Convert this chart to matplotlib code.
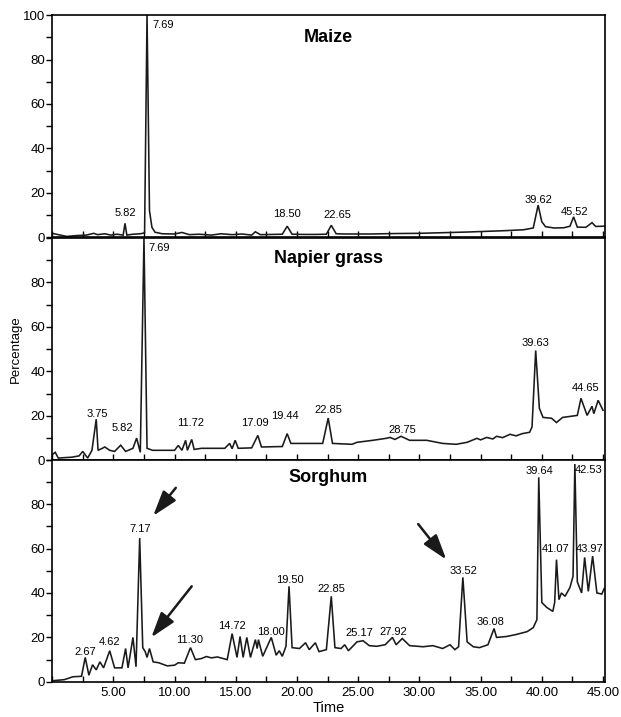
import numpy as np
import matplotlib
matplotlib.use("Agg")
import matplotlib.pyplot as plt
from matplotlib.ticker import MultipleLocator, FixedLocator

plt.rcParams['font.family'] = ['Liberation Sans', 'DejaVu Sans']

# ---- traces (time, percentage) ----
maize_t = [0.0, 0.5, 1.2, 2.0, 2.8, 3.4, 3.7, 4.3, 4.8, 5.3, 5.8, 5.95, 6.1, 6.6, 7.2, 7.55,
           7.75, 7.95, 8.15, 8.4, 9.0, 10.0, 10.6, 11.2, 12.0, 13.0, 13.8, 14.7, 15.5, 16.3,
           16.6, 17.0, 18.0, 18.8, 19.2, 19.6, 20.5, 21.5, 22.4, 22.8, 23.2, 24.0, 26.0, 28.0,
           30.0, 32.0, 34.0, 35.5, 37.0, 38.5, 39.3, 39.7, 40.0, 40.3, 41.0, 41.8, 42.3, 42.6,
           42.9, 43.6, 44.1, 44.4, 45.1]
maize_y = [1.8, 1.2, 0.4, 0.8, 1.0, 1.8, 1.2, 1.6, 1.0, 1.4, 1.0, 6.3, 1.0, 1.4, 1.6, 2.0,
           100, 12, 4.5, 2.3, 1.6, 1.5, 2.2, 1.2, 1.4, 1.0, 1.6, 1.2, 1.5, 1.0,
           2.5, 1.2, 1.3, 1.4, 5.0, 1.4, 1.3, 1.3, 1.4, 5.4, 1.6, 1.5, 1.5, 1.7,
           1.8, 2.1, 2.4, 2.7, 3.0, 3.4, 4.2, 14.5, 7.0, 4.8, 4.2, 4.3, 5.0, 9.2,
           4.6, 4.5, 6.6, 4.9, 5.0]

napier_t = [0.0, 0.25, 0.5, 1.0, 1.6, 2.2, 2.5, 2.9, 3.25, 3.6, 3.75, 4.1, 4.3, 4.7, 5.1, 5.6,
            6.0, 6.6, 6.9, 7.2, 7.5, 7.75, 8.2, 9.0, 10.0, 10.3, 10.6, 10.9, 11.05, 11.4, 11.6,
            12.2, 13.0, 14.1, 14.5, 14.7, 14.95, 15.2, 16.3, 16.8, 17.1, 18.8, 19.2, 19.5, 21.0,
            22.1, 22.55, 22.9, 24.5, 24.9, 26.2, 27.3, 27.6, 28.0, 28.5, 29.2, 30.6, 31.9, 33.0,
            33.9, 34.7, 35.0, 35.5, 36.0, 36.3, 36.8, 37.4, 37.9, 38.4, 39.0, 39.2, 39.5, 39.8,
            40.1, 40.8, 41.2, 41.7, 42.9, 43.2, 43.7, 44.1, 44.25, 44.6, 45.0]
napier_y = [2.5, 3.6, 1.0, 1.2, 1.4, 2.0, 4.0, 1.0, 4.5, 18.5, 4.5, 5.4, 6.0, 4.5, 4.0, 6.8,
            4.0, 5.4, 10.0, 3.6, 100, 5.4, 4.5, 4.5, 4.5, 6.7, 4.5, 9.0, 4.5, 9.4, 4.9,
            5.4, 5.4, 5.4, 7.6, 5.2, 9.0, 5.4, 5.6, 11.2, 6.0, 6.2, 12.0, 7.6, 7.6,
            7.6, 19.0, 7.6, 7.2, 8.1, 9.0, 9.9, 10.3, 9.4, 10.8, 9.0, 9.0, 7.6, 7.2,
            8.1, 9.9, 9.2, 10.3, 9.6, 10.8, 10.2, 11.7, 11.0, 12.0, 12.6, 15.0, 49.4, 23.4,
            19.3, 18.9, 17.0, 19.3, 20.2, 27.9, 20.2, 24.3, 21.0, 27.0, 22.5]

sorghum_t = [0.0, 1.0, 1.7, 2.4, 2.7, 3.0, 3.3, 3.6, 3.9, 4.2, 4.7, 5.1, 5.7, 6.0, 6.2, 6.6,
             6.85, 7.15, 7.4, 7.6, 7.75, 7.95, 8.25, 8.7, 9.4, 10.0, 10.3, 10.8, 11.3, 11.7,
             12.2, 12.6, 13.0, 13.5, 14.3, 14.7, 15.1, 15.35, 15.6, 15.9, 16.2, 16.6, 16.75,
             16.85, 17.2, 17.9, 18.3, 18.55, 18.8, 19.1, 19.35, 19.6, 20.2, 20.7, 21.0, 21.5,
             21.8, 22.4, 22.8, 23.1, 23.6, 23.9, 24.2, 24.9, 25.4, 25.9, 26.5, 27.2, 27.8, 28.1,
             28.6, 29.2, 30.3, 31.1, 31.9, 32.5, 32.9, 33.2, 33.55, 33.9, 34.4, 34.9, 35.6, 36.1,
             36.3, 37.1, 37.9, 38.8, 39.3, 39.6, 39.75, 40.0, 40.4, 40.9, 41.05, 41.2, 41.4,
             41.6, 41.9, 42.3, 42.55, 42.7, 42.9, 43.25, 43.5, 43.8, 44.15, 44.5, 44.9, 45.1]
sorghum_y = [0.5, 1.0, 2.3, 2.5, 11, 3, 7.7, 5.4, 9, 6.3, 14, 6.3, 6.3, 15, 6.3, 20,
             6.8, 64.7, 15.4, 13.6, 11, 15, 9, 8.6, 7.2, 7.5, 8.6, 8.4, 15.4, 10,
             10.5, 11.4, 10.8, 11.2, 10.0, 21.7, 11, 20.4, 11, 20, 11, 19, 15,
             19, 11.5, 20, 12, 14, 11.5, 16, 43, 15.4, 15, 17.6, 14.5, 17.6,
             13.6, 14.5, 38.5, 15.4, 15, 16.7, 14, 18, 18.5, 16.3, 16, 16.7, 20, 16.7,
             19.5, 16.3, 15.8, 16.3, 15, 16.7, 14.5, 15.8, 47, 18, 15.8, 15.4, 16.7, 24,
             20, 20.4, 21.3, 22.6, 24.4, 28, 92, 35.7, 33.5, 31.7, 35.7, 55, 37,
             40, 38.5, 42.5, 47.5, 98, 45, 40, 56, 40.7, 56.6, 40, 39.5, 42]

# ---- peak labels ----
maize_labels = ["5.82", "18.50", "22.65", "39.62", "45.52"]
maize_lab_t = [6.0, 19.2, 23.3, 39.7, 42.7]
maize_lab_y = [10.8, 10.5, 10.2, 17.0, 11.5]

napier_labels = ["3.75", "5.82", "11.72", "17.09", "19.44", "22.85", "28.75", "39.63", "44.65"]
napier_lab_t = [3.7, 5.7, 11.3, 16.6, 19.0, 22.6, 28.6, 39.5, 43.6]
napier_lab_y = [21.0, 14.4, 16.6, 16.6, 20.0, 22.5, 13.5, 52.6, 32.4]

sorghum_labels = ["2.67", "4.62", "7.17", "11.30", "14.72", "18.00", "19.50", "22.85",
                  "25.17", "27.92", "33.52", "36.08", "39.64", "41.07", "42.53", "43.97"]
sorghum_lab_t = [2.7, 4.7, 7.2, 11.2, 14.7, 17.9, 19.4, 22.8,
                 25.1, 27.9, 33.6, 35.8, 39.8, 41.1, 43.8, 43.9]
sorghum_lab_y = [13.6, 18.0, 68.8, 19.0, 25.0, 22.6, 46.0, 41.6,
                 22.0, 22.6, 49.8, 27.0, 95.0, 59.7, 95.5, 59.7]

# arrows in the sorghum panel: (tail_t, tail_y) -> (head_t, head_y)
arrow_tail_t = [10.1, 11.4, 29.9]
arrow_tail_y = [87.3, 43.0, 71.0]
arrow_head_t = [8.25, 8.1, 32.2]
arrow_head_y = [74.7, 20.0, 55.0]

panels = [
    ("Maize", maize_t, maize_y, maize_labels, maize_lab_t, maize_lab_y, True),
    ("Napier grass", napier_t, napier_y, napier_labels, napier_lab_t, napier_lab_y, False),
    ("Sorghum", sorghum_t, sorghum_y, sorghum_labels, sorghum_lab_t, sorghum_lab_y, False),
]

fig = plt.figure(figsize=(6.21, 7.17), dpi=100)
left, width = 0.084, 0.890
bottoms = [0.669, 0.358, 0.049]
h = 0.310

for i, (name, t, y, labs, lt, ly, show100) in enumerate(panels):
    ax = fig.add_axes([left, bottoms[i], width, h])
    ax.plot(t, y, color='#1a1a1a', lw=1.15, solid_joinstyle='miter')
    ax.set_xlim(0, 45.15)
    ax.set_ylim(0, 100)
    for s in ax.spines.values():
        s.set_linewidth(1.2)
    ax.xaxis.set_major_locator(MultipleLocator(5))
    ax.xaxis.set_minor_locator(MultipleLocator(2.5))
    ax.tick_params(axis='x', which='both', direction='in', length=4, width=1,
                   labelsize=9.5, pad=4)
    ax.yaxis.set_major_locator(FixedLocator([0, 20, 40, 60, 80, 100] if show100 else [0, 20, 40, 60, 80]))
    ax.yaxis.set_minor_locator(MultipleLocator(10))
    ax.tick_params(axis='y', which='both', direction='out', length=4, width=1,
                   labelsize=9.5, pad=1)
    if i < 2:
        ax.tick_params(axis='x', labelbottom=False)
    else:
        ax.set_xticks([5, 10, 15, 20, 25, 30, 35, 40, 45])
        ax.set_xticklabels(["%.2f" % v for v in [5, 10, 15, 20, 25, 30, 35, 40, 45]])
    ax.text(0.5, 0.90 + 0.01 * i, name, transform=ax.transAxes, ha='center', va='center',
            fontsize=13, fontweight='bold')
    for s_, x_, y_ in zip(labs, lt, ly):
        ax.text(x_, y_, s_, ha='center', va='center', fontsize=8)
    # big 7.69 label sits to the right of the tallest peak
    if i == 0:
        ax.text(8.2, 95.5, "7.69", ha='left', va='center', fontsize=8)
    if i == 1:
        ax.text(7.9, 95.7, "7.69", ha='left', va='center', fontsize=8)
    if i == 2:
        for tt, ty, ht, hy in zip(arrow_tail_t, arrow_tail_y, arrow_head_t, arrow_head_y):
            ax.annotate('', xy=(ht, hy), xytext=(tt, ty),
                        arrowprops=dict(arrowstyle='-|>,head_length=1.4,head_width=0.45',
                                        mutation_scale=11, color='#1a1a1a', lw=1.8,
                                        shrinkA=0, shrinkB=0))
        ax.set_xlabel("Time", fontsize=10.5, labelpad=1)

fig.text(0.025, 0.513, "Percentage", rotation=90, ha='center', va='center', fontsize=9.5)
fig.savefig("out.png", dpi=100)
